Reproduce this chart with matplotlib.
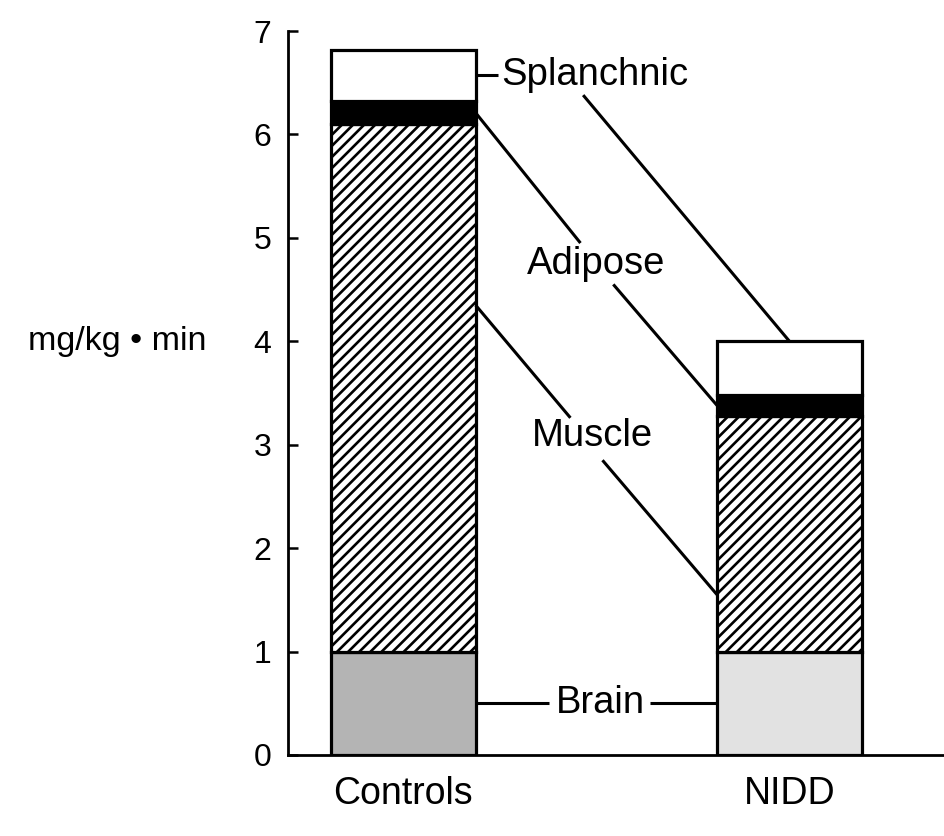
import matplotlib
matplotlib.use("Agg")
import matplotlib.pyplot as plt
import numpy as np

# ---- data ----
groups = ["Controls", "NIDD"]
brain = [1.0, 1.0]
muscle = [5.1, 2.28]
adipose = [0.22, 0.20]
splanchnic = [0.50, 0.52]
y_ticks = [0, 1, 2, 3, 4, 5, 6, 7]
y_label = "mg/kg • min"
seg_names = ["Brain", "Muscle", "Adipose", "Splanchnic"]

plt.rcParams['font.family'] = ['Liberation Sans', 'DejaVu Sans']
plt.rcParams['hatch.linewidth'] = 1.9

fig = plt.figure(figsize=(9.44, 8.36), dpi=100)
ax = fig.add_axes([288/944, 1 - 755/836, 1 - 288/944, (755 - 31)/836])

x = np.arange(len(groups))
w = 0.375
lw_bar = 2.3
brain_cols = ['#b4b4b4', '#e2e2e2']

b0 = np.zeros(2)
b1 = b0 + np.array(brain)
b2 = b1 + np.array(muscle)
b3 = b2 + np.array(adipose)
b4 = b3 + np.array(splanchnic)

for i in range(2):
    ax.bar(x[i], brain[i], w, bottom=b0[i], color=brain_cols[i], edgecolor='black', linewidth=lw_bar, zorder=2)
ax.bar(x, muscle, w, bottom=b1, color='white', edgecolor='black', hatch='///', linewidth=lw_bar, zorder=2)
ax.bar(x, adipose, w, bottom=b2, color='black', edgecolor='black', linewidth=lw_bar, zorder=2)
ax.bar(x, splanchnic, w, bottom=b3, color='white', edgecolor='black', linewidth=lw_bar, zorder=2)

ax.set_xlim(-0.298, 1.40)
ax.set_ylim(0, 7)
ax.set_yticks(y_ticks)
ax.set_xticks(x)
ax.set_xticklabels(groups, fontsize=27)
ax.tick_params(axis='x', length=0, pad=15)
ax.tick_params(axis='y', direction='in', length=7, width=1.8, labelsize=23, pad=12)
for s in ['top', 'right']:
    ax.spines[s].set_visible(False)
for s in ['left', 'bottom']:
    ax.spines[s].set_linewidth(2.0)

ax.set_ylabel(y_label, rotation=0, fontsize=24.5, ha='center', va='center')
ax.yaxis.set_label_coords(-0.261, 4.0/7)

# ---- leader lines & labels ----
lkw = dict(color='black', linewidth=2.2, zorder=3, solid_capstyle='butt')
fs = 27.5
rc = x[0] + w/2   # right edge of Controls
ln = x[1] - w/2   # left edge of NIDD

# Splanchnic
ys = (b3[0] + b4[0]) / 2
ax.plot([rc, 0.245], [ys, ys], **lkw)
ax.text(0.253, ys, seg_names[3], fontsize=fs, ha='left', va='center')
ax.plot([0.466, x[1]], [6.38, b4[1]], **lkw)

# Adipose
ya0 = (b2[0] + b3[0]) / 2
ya1 = (b2[1] + b3[1]) / 2
ax.plot([rc, 0.459], [ya0, 4.95], **lkw)
ax.text(0.50, 4.75, seg_names[2], fontsize=fs, ha='center', va='center')
ax.plot([0.544, ln], [4.55, ya1], **lkw)

# Muscle
ax.plot([rc, 0.433], [4.35, 3.26], **lkw)
ax.text(0.49, 3.08, seg_names[1], fontsize=fs, ha='center', va='center')
ax.plot([0.516, ln], [2.85, 1.55], **lkw)

# Brain
yb = (b0[0] + b1[0]) / 2
ax.plot([rc, 0.378], [yb, yb], **lkw)
ax.text(0.51, yb, seg_names[0], fontsize=fs, ha='center', va='center')
ax.plot([0.640, ln], [yb, yb], **lkw)

fig.savefig("out.png", dpi=100)
